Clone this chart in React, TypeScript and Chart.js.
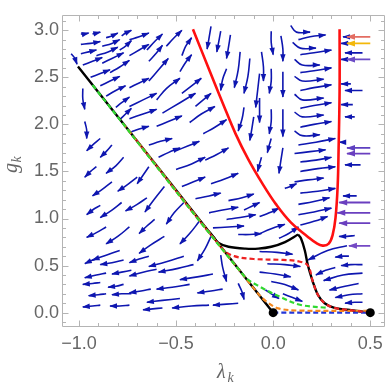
import React, { useEffect, useRef } from "react";
import { Chart, registerables } from "chart.js";

Chart.register(...registerables);

// ---------- axis ticks ----------
const X_TICKS = [-1.0, -0.5, 0.0, 0.5];
const Y_TICKS = [0.0, 0.5, 1.0, 1.5, 2.0, 2.5, 3.0];
const X_RANGE = [-1.082, 0.577];
const Y_RANGE = [-0.142, 3.164];

// ---------- stream segments: [λ1,g1, λm,gm, λ2,g2] (arrow at the end) ----------
const streamsUpperLeft: number[][] = [
  [-0.99, 2.96, -0.97, 2.96, -0.95, 2.97],
  [-0.93, 2.96, -0.91, 2.97, -0.89, 2.98],
  [-0.86, 2.92, -0.83, 2.94, -0.8, 2.97],
  [-0.78, 2.94, -0.76, 2.97, -0.73, 3.0],
  [-0.99, 2.85, -0.94, 2.86, -0.89, 2.88],
  [-0.88, 2.83, -0.83, 2.86, -0.79, 2.9],
  [-0.99, 2.75, -0.95, 2.77, -0.91, 2.79],
  [-0.91, 2.73, -0.85, 2.77, -0.8, 2.82],
  [-0.79, 2.79, -0.76, 2.83, -0.73, 2.89],
  [-0.98, 2.63, -0.93, 2.67, -0.88, 2.71],
  [-0.88, 2.65, -0.83, 2.7, -0.77, 2.76],
  [-0.94, 2.5, -0.89, 2.54, -0.84, 2.58],
  [-0.84, 2.55, -0.79, 2.61, -0.74, 2.68],
  [-0.89, 2.41, -0.84, 2.46, -0.79, 2.51],
  [-0.86, 2.3, -0.81, 2.36, -0.76, 2.41],
  [-0.81, 2.18, -0.78, 2.23, -0.74, 2.29],
  [-0.79, 2.05, -0.76, 2.11, -0.73, 2.17],
  [-0.74, 2.9, -0.69, 2.93, -0.64, 2.97],
  [-0.65, 2.79, -0.61, 2.88, -0.57, 2.96],
  [-0.55, 2.83, -0.51, 2.92, -0.47, 3.0],
  [-0.74, 2.73, -0.69, 2.79, -0.64, 2.85],
  [-0.64, 2.67, -0.6, 2.76, -0.57, 2.84],
  [-0.47, 2.73, -0.45, 2.83, -0.42, 2.92],
  [-0.74, 2.39, -0.69, 2.44, -0.64, 2.49],
  [-0.64, 2.46, -0.59, 2.58, -0.54, 2.7],
  [-0.48, 2.56, -0.45, 2.66, -0.42, 2.74],
  [-0.74, 2.19, -0.67, 2.26, -0.6, 2.33],
  [-0.6, 2.26, -0.55, 2.38, -0.48, 2.49],
  [-0.47, 2.33, -0.42, 2.41, -0.37, 2.49],
  [-0.74, 2.06, -0.67, 2.11, -0.6, 2.16],
  [-0.57, 2.12, -0.48, 2.23, -0.4, 2.33],
  [-0.4, 2.19, -0.36, 2.26, -0.32, 2.33],
  [-0.73, 1.92, -0.69, 1.95, -0.64, 1.98],
  [-0.6, 1.98, -0.54, 2.03, -0.47, 2.09],
  [-0.43, 2.02, -0.37, 2.11, -0.3, 2.19],
  [-0.36, 1.9, -0.3, 1.97, -0.24, 2.05],
];

const streamsMiddle: number[][] = [
  [-0.64, 1.78, -0.58, 1.82, -0.52, 1.85],
  [-0.59, 1.65, -0.54, 1.7, -0.48, 1.75],
  [-0.5, 1.72, -0.44, 1.77, -0.38, 1.82],
  [-0.5, 1.52, -0.42, 1.58, -0.35, 1.65],
  [-0.35, 1.62, -0.29, 1.68, -0.23, 1.75],
  [-0.47, 1.34, -0.41, 1.39, -0.35, 1.44],
  [-0.32, 1.37, -0.25, 1.42, -0.18, 1.48],
  [-0.4, 1.21, -0.33, 1.24, -0.27, 1.27],
  [-0.23, 1.19, -0.16, 1.22, -0.1, 1.26],
  [-0.33, 1.06, -0.26, 1.09, -0.18, 1.12],
  [-0.24, 0.99, -0.17, 1.01, -0.09, 1.04],
  [-0.31, 0.9, -0.23, 0.91, -0.15, 0.92],
  [-0.18, 0.83, -0.12, 0.83, -0.06, 0.84],
  [-0.07, 1.02, -0.02, 1.06, 0.03, 1.11],
  [-0.08, 0.83, -0.01, 0.89, 0.06, 0.94],
  [0.03, 0.79, 0.08, 0.84, 0.13, 0.91],
  [-0.15, 1.09, -0.11, 1.13, -0.07, 1.17],
];

const streamsFalling: number[][] = [
  [-0.32, 3.04, -0.33, 2.92, -0.34, 2.8],
  [-0.27, 2.99, -0.28, 2.88, -0.29, 2.77],
  [-0.22, 2.95, -0.23, 2.82, -0.24, 2.7],
  [-0.17, 2.77, -0.18, 2.58, -0.2, 2.39],
  [-0.24, 2.59, -0.26, 2.48, -0.27, 2.36],
  [-0.12, 2.7, -0.13, 2.51, -0.15, 2.33],
  [-0.07, 2.54, -0.08, 2.36, -0.09, 2.18],
  [-0.15, 2.18, -0.16, 2.06, -0.18, 1.93],
  [-0.1, 2.08, -0.11, 1.95, -0.12, 1.83],
  [-0.06, 2.77, -0.05, 2.61, -0.05, 2.46],
  [-0.01, 2.99, -0.01, 2.87, 0.0, 2.74],
  [-0.01, 2.59, -0.01, 2.46, -0.02, 2.33],
  [0.04, 2.94, 0.05, 2.8, 0.05, 2.67],
  [0.05, 2.56, 0.05, 2.43, 0.05, 2.29],
  [-0.07, 2.28, -0.07, 2.16, -0.07, 2.02],
  [-0.01, 2.16, -0.01, 2.03, -0.02, 1.9],
  [-0.01, 1.85, -0.02, 1.78, -0.03, 1.7],
  [0.05, 1.75, 0.04, 1.62, 0.03, 1.48],
  [-0.06, 1.65, -0.07, 1.58, -0.08, 1.5],
  [0.05, 2.16, 0.05, 2.0, 0.05, 1.87],
];

const streamsTurning: number[][] = [
  [0.09, 3.05, 0.12, 2.98, 0.19, 2.98],
  [0.13, 2.9, 0.19, 2.93, 0.27, 2.95],
  [0.1, 2.87, 0.14, 2.81, 0.22, 2.81],
  [0.14, 2.74, 0.21, 2.76, 0.3, 2.79],
  [0.11, 2.69, 0.15, 2.63, 0.24, 2.63],
  [0.14, 2.55, 0.21, 2.57, 0.3, 2.6],
  [0.11, 2.51, 0.15, 2.46, 0.26, 2.48],
  [0.14, 2.36, 0.21, 2.39, 0.3, 2.42],
  [0.11, 2.32, 0.15, 2.26, 0.26, 2.28],
  [0.14, 2.17, 0.21, 2.2, 0.3, 2.23],
  [0.11, 2.13, 0.15, 2.08, 0.26, 2.1],
  [0.14, 1.97, 0.21, 2.0, 0.3, 2.03],
  [0.11, 1.93, 0.15, 1.88, 0.24, 1.89],
  [0.13, 1.78, 0.22, 1.81, 0.32, 1.85],
  [0.11, 1.69, 0.19, 1.71, 0.27, 1.73],
  [0.14, 1.6, 0.22, 1.62, 0.3, 1.65],
  [0.14, 1.5, 0.23, 1.53, 0.32, 1.55],
  [0.11, 1.39, 0.18, 1.41, 0.26, 1.43],
  [0.14, 1.27, 0.23, 1.29, 0.32, 1.32],
  [0.13, 1.15, 0.21, 1.18, 0.29, 1.22],
  [0.13, 1.04, 0.21, 1.07, 0.3, 1.11],
  [0.14, 0.93, 0.21, 0.97, 0.28, 1.02],
  [0.06, 1.32, 0.09, 1.34, 0.12, 1.37],
];

const streamsRight: number[][] = [
  [0.4, 2.93, 0.38, 2.93, 0.36, 2.93],
  [0.39, 2.86, 0.37, 2.86, 0.35, 2.86],
  [0.46, 2.76, 0.41, 2.76, 0.37, 2.76],
  [0.38, 2.69, 0.36, 2.69, 0.35, 2.69],
  [0.4, 2.43, 0.37, 2.43, 0.35, 2.43],
  [0.46, 2.36, 0.41, 2.36, 0.37, 2.36],
  [0.41, 2.21, 0.38, 2.21, 0.35, 2.21],
  [0.42, 2.08, 0.39, 2.08, 0.37, 2.08],
  [0.37, 1.81, 0.36, 1.81, 0.34, 1.81],
  [0.45, 1.57, 0.41, 1.57, 0.37, 1.57],
  [0.43, 1.24, 0.39, 1.24, 0.36, 1.24],
  [0.42, 0.82, 0.38, 0.81, 0.34, 0.81],
  [0.39, 0.6, 0.36, 0.6, 0.32, 0.59],
  [0.46, 0.51, 0.4, 0.51, 0.35, 0.5],
  [0.38, 0.71, 0.28, 0.66, 0.18, 0.56],
  [0.46, 0.42, 0.36, 0.4, 0.26, 0.34],
  [0.44, 0.31, 0.37, 0.28, 0.29, 0.24],
  [0.46, 0.2, 0.39, 0.19, 0.32, 0.16],
  [0.46, 0.11, 0.42, 0.11, 0.37, 0.1],
  [0.32, 0.48, 0.27, 0.45, 0.22, 0.4],
  [-0.07, 0.65, 0.02, 0.64, 0.1, 0.62],
  [-0.03, 0.52, 0.06, 0.51, 0.14, 0.49],
  [-0.07, 0.43, 0.01, 0.41, 0.09, 0.38],
  [-0.01, 0.33, 0.06, 0.3, 0.13, 0.24],
  [-0.04, 0.24, -0.01, 0.2, 0.03, 0.15],
  [0.05, 0.2, 0.1, 0.16, 0.15, 0.12],
];

const streamsLower: number[][] = [
  [-1.04, 2.75, -1.02, 2.7, -1.01, 2.64],
  [-0.98, 2.38, -0.98, 2.27, -0.97, 2.16],
  [-0.97, 2.03, -0.96, 1.94, -0.96, 1.85],
  [-0.89, 1.85, -0.93, 1.78, -0.96, 1.72],
  [-0.83, 1.78, -0.86, 1.71, -0.89, 1.65],
  [-0.77, 1.65, -0.81, 1.56, -0.86, 1.48],
  [-0.91, 1.55, -0.94, 1.5, -0.97, 1.44],
  [-0.83, 1.39, -0.88, 1.31, -0.93, 1.24],
  [-0.7, 1.44, -0.75, 1.36, -0.8, 1.29],
  [-0.89, 1.14, -0.93, 1.09, -0.96, 1.04],
  [-0.78, 1.17, -0.83, 1.09, -0.89, 1.01],
  [-0.65, 1.22, -0.7, 1.15, -0.76, 1.08],
  [-0.86, 0.91, -0.91, 0.85, -0.96, 0.8],
  [-0.74, 0.91, -0.8, 0.81, -0.86, 0.73],
  [-0.79, 0.66, -0.86, 0.61, -0.93, 0.56],
  [-0.64, 1.55, -0.67, 1.46, -0.7, 1.37],
  [-0.56, 1.34, -0.61, 1.21, -0.66, 1.07],
  [-0.46, 1.17, -0.51, 1.06, -0.55, 0.94],
  [-0.61, 0.99, -0.65, 0.92, -0.69, 0.84],
  [-0.38, 0.97, -0.43, 0.84, -0.48, 0.73],
  [-0.56, 0.81, -0.63, 0.72, -0.69, 0.63],
  [-0.32, 0.81, -0.35, 0.68, -0.39, 0.55],
  [-0.64, 0.6, -0.69, 0.57, -0.74, 0.53],
  [-0.46, 0.6, -0.55, 0.54, -0.64, 0.49],
];

const streamsBottom: number[][] = [
  [-0.91, 0.57, -0.94, 0.55, -0.97, 0.52],
  [-0.77, 0.56, -0.83, 0.53, -0.89, 0.51],
  [-0.86, 0.42, -0.91, 0.4, -0.97, 0.37],
  [-0.73, 0.45, -0.78, 0.43, -0.83, 0.41],
  [-0.89, 0.32, -0.93, 0.31, -0.98, 0.3],
  [-0.77, 0.3, -0.81, 0.28, -0.85, 0.27],
  [-0.86, 0.2, -0.9, 0.19, -0.95, 0.18],
  [-0.73, 0.2, -0.78, 0.2, -0.83, 0.19],
  [-0.89, 0.08, -0.93, 0.07, -0.98, 0.06],
  [-0.74, 0.08, -0.79, 0.07, -0.84, 0.07],
  [-0.6, 0.46, -0.67, 0.43, -0.74, 0.39],
  [-0.41, 0.51, -0.49, 0.47, -0.59, 0.43],
  [-0.31, 0.41, -0.39, 0.38, -0.48, 0.35],
  [-0.63, 0.25, -0.68, 0.23, -0.74, 0.21],
  [-0.43, 0.3, -0.52, 0.27, -0.6, 0.25],
  [-0.26, 0.25, -0.32, 0.23, -0.39, 0.21],
  [-0.48, 0.15, -0.57, 0.13, -0.65, 0.11],
  [-0.33, 0.08, -0.42, 0.07, -0.52, 0.05],
  [-0.57, 0.05, -0.62, 0.04, -0.67, 0.03],
  [-0.18, 0.1, -0.24, 0.09, -0.31, 0.08],
  [-0.27, 0.61, -0.26, 0.48, -0.24, 0.33],
  [-0.18, 0.31, -0.16, 0.22, -0.15, 0.14],
];

// ---------- curves: [λ, g] ----------
const redCurve: number[][] = [
  [-0.413, 3.01], [-0.332, 2.594], [-0.26, 2.228], [-0.194, 1.902], [-0.128, 1.628],
  [-0.056, 1.373], [0.015, 1.15], [0.092, 0.956], [0.179, 0.804], [0.219, 0.743],
  [0.255, 0.712], [0.286, 0.732], [0.306, 0.824], [0.321, 1.007], [0.332, 1.343],
  [0.337, 1.75], [0.342, 2.36], [0.342, 3.01],
];
const blackSeparatrix: number[][] = [[-1.005, 2.614], [0, 0]];
const blackBranchA: number[][] = [
  [-0.332, 0.865], [-0.306, 0.8], [-0.281, 0.74], [-0.23, 0.7], [-0.143, 0.68],
  [-0.077, 0.68], [-0.01, 0.7], [0.061, 0.75], [0.128, 0.83],
];
const blackBranchB: number[][] = [
  [0.128, 0.83], [0.143, 0.79], [0.163, 0.66], [0.179, 0.5], [0.204, 0.33],
  [0.23, 0.19], [0.265, 0.1], [0.316, 0.05], [0.383, 0.03], [0.5, 0.0],
];
const greenDashed: number[][] = [
  [-0.93, 2.418], [-0.15, 0.39], [-0.077, 0.285], [0.051, 0.153], [0.143, 0.081], [0.281, 0.051],
];
const redDashed: number[][] = [
  [-0.72, 1.872], [-0.26, 0.676], [-0.2, 0.6], [-0.1, 0.57], [0.05, 0.56], [0.13, 0.545],
  [0.179, 0.5], [0.204, 0.33], [0.23, 0.19], [0.265, 0.1], [0.316, 0.05], [0.383, 0.03], [0.5, 0.0],
];
const orangeDashed: number[][] = [
  [-0.78, 2.028], [-0.082, 0.213], [-0.03, 0.11], [0.026, 0.045], [0.128, 0.022], [0.5, 0.02],
];
const blueDashed: number[][] = [[0, 0], [0.5, 0]];
const fixedPoints: number[][] = [[0, 0], [0.5, 0]];

// coloured inflow arrows on the right
const inflowLevels = [2.93, 2.86, 2.69, 1.75, 1.69, 1.17, 1.06, 0.95, 0.71];
const inflowStart = [0.5, 0.5, 0.5, 0.5, 0.5, 0.5, 0.5, 0.5, 0.5];
const inflowEnd = [0.38, 0.38, 0.38, 0.38, 0.38, 0.34, 0.33, 0.34, 0.39];
const inflowColors = [
  "#e36d62", "#f3b80a", "#6c4cc6", "#5e40c0", "#6a3fbf",
  "#6a3fbf", "#6a3fbf", "#6a3fbf", "#7449c4",
];

// ---------- styles ----------
const BLUE = "rgb(14,22,176)";
const AXIS_GRAY = "#b4b4b4";
const LABEL_GRAY = "#666666";

function segPts(s: number[]) {
  const out: { x: number; y: number }[] = [];
  for (let i = 0; i < s.length; i += 2) out.push({ x: s[i], y: s[i + 1] });
  return out;
}
function curvePts(c: number[][]) {
  return c.map(([x, y]) => ({ x, y }));
}
function fmt(v: number) {
  const s = Math.abs(v).toFixed(1);
  return v < -1e-9 ? "\u2212" + s : s;
}

const arrowPlugin = {
  id: "arrowHeads",
  afterDatasetDraw(chart: any, args: any) {
    const ds = chart.data.datasets[args.index];
    if (!ds || !ds.arrowHead) return;
    const pts = args.meta.data;
    if (!pts || pts.length < 2) return;
    const last = pts[pts.length - 1];
    const prev = pts[pts.length - 2];
    let fx = last.cp1x, fy = last.cp1y;
    if (fx == null || fy == null || Math.hypot(last.x - fx, last.y - fy) < 0.8) {
      fx = prev.x; fy = prev.y;
    }
    const ang = Math.atan2(last.y - fy, last.x - fx);
    const c = Math.cos(ang), s = Math.sin(ang);
    const L = ds.arrowHead.len, W = ds.arrowHead.w;
    const bx = last.x - L * c, by = last.y - L * s;
    const ctx = chart.ctx;
    ctx.save();
    ctx.fillStyle = ds.borderColor;
    ctx.beginPath();
    ctx.moveTo(last.x + 0.8 * c, last.y + 0.8 * s);
    ctx.lineTo(bx - (s * W) / 2, by + (c * W) / 2);
    ctx.lineTo(bx + (s * W) / 2, by - (c * W) / 2);
    ctx.closePath();
    ctx.fill();
    ctx.restore();
  },
};

const framePlugin = {
  id: "frameTicks",
  afterDraw(chart: any) {
    const { ctx, chartArea: a, scales } = chart;
    const xs = scales.x, ys = scales.y;
    ctx.save();
    ctx.strokeStyle = AXIS_GRAY;
    ctx.lineWidth = 1;
    const L = Math.round(a.left) - 0.5, R = Math.round(a.right) - 0.5;
    const T = Math.round(a.top) + 0.5, B = Math.round(a.bottom) + 0.5;
    ctx.beginPath();
    ctx.rect(L, T, R - L, B - T);
    ctx.stroke();
    ctx.beginPath();
    for (let i = -12; i <= 7; i++) {
      const v = i / 10;
      if (v < xs.min || v > xs.max) continue;
      const px = Math.round(xs.getPixelForValue(v)) + 0.5;
      const len = i % 5 === 0 ? 6 : 3.5;
      ctx.moveTo(px, B); ctx.lineTo(px, B - len);
      ctx.moveTo(px, T); ctx.lineTo(px, T + len);
    }
    for (let i = -2; i <= 32; i++) {
      const v = i / 10;
      if (v < ys.min || v > ys.max) continue;
      const py = Math.round(ys.getPixelForValue(v)) + 0.5;
      const len = i % 5 === 0 ? 6 : 3.5;
      ctx.moveTo(L, py); ctx.lineTo(L + len, py);
      ctx.moveTo(R, py); ctx.lineTo(R - len, py);
    }
    ctx.stroke();

    // axis titles
    ctx.fillStyle = LABEL_GRAY;
    ctx.textBaseline = "alphabetic";
    ctx.textAlign = "left";
    ctx.font = 'italic 20px "Liberation Serif"';
    ctx.fillText("\u03bb", 217, 378);
    ctx.font = 'italic 14px "Liberation Serif"';
    ctx.fillText("k", 227.5, 382);

    ctx.translate(17, 0);
    ctx.rotate(-Math.PI / 2);
    ctx.font = 'italic 20px "Liberation Serif"';
    ctx.fillText("g", -173, 0);
    const gw = ctx.measureText("g").width;
    ctx.font = 'italic 14px "Liberation Serif"';
    ctx.fillText("k", -173 + gw + 0.5, 4);
    ctx.restore();
  },
};

function buildConfig(): any {
  const datasets: any[] = [];
  const streamGroups = [
    streamsUpperLeft, streamsMiddle, streamsFalling, streamsTurning,
    streamsRight, streamsLower, streamsBottom,
  ];
  // top layers first (lower "order" draws on top)
  inflowLevels.forEach((g, i) => {
    datasets.push({
      data: [{ x: inflowStart[i], y: g }, { x: inflowEnd[i], y: g }],
      showLine: true, borderColor: inflowColors[i], borderWidth: 1.8,
      pointRadius: 0, tension: 0, order: 0,
      arrowHead: { len: 8, w: 6 },
    });
  });
  datasets.push({
    data: curvePts(fixedPoints), showLine: false, pointRadius: 4.5,
    pointBackgroundColor: "#000", pointBorderColor: "#000", pointBorderWidth: 0,
    order: 1,
  });
  const dashed = [
    { c: greenDashed, col: "#2fd82f", off: 0 },
    { c: redDashed, col: "#ee2222", off: 3 },
    { c: orangeDashed, col: "#f5891f", off: 6 },
    { c: blueDashed, col: "#2436d8", off: 0 },
  ];
  dashed.forEach((d, i) => {
    datasets.push({
      data: curvePts(d.c), showLine: true, borderColor: d.col, borderWidth: 2.2,
      borderDash: [5, 3], borderDashOffset: d.off, pointRadius: 0,
      tension: 0.35, order: 2 + i * 0.1,
    });
  });
  [blackSeparatrix, blackBranchA, blackBranchB].forEach((c) => {
    datasets.push({
      data: curvePts(c), showLine: true, borderColor: "#000", borderWidth: 2.4,
      pointRadius: 0, tension: 0.35, order: 3,
    });
  });
  datasets.push({
    data: curvePts(redCurve), showLine: true, borderColor: "#ff1010", borderWidth: 2.6,
    pointRadius: 0, tension: 0.4, order: 4,
  });
  streamGroups.forEach((grp) =>
    grp.forEach((s) => {
      datasets.push({
        data: segPts(s), showLine: true, borderColor: BLUE, borderWidth: 1.6,
        pointRadius: 0, tension: 0.4, order: 6,
        arrowHead: { len: 7, w: 5.4 },
      });
    })
  );

  const tickFont = { family: '"Liberation Sans", Arial, sans-serif', size: 18 };
  return {
    type: "scatter",
    data: { datasets },
    plugins: [arrowPlugin, framePlugin],
    options: {
      animation: false,
      responsive: true,
      maintainAspectRatio: false,
      events: [],
      layout: { padding: { top: 1, right: 2, left: 0, bottom: 0 } },
      plugins: { legend: { display: false }, tooltip: { enabled: false } },
      scales: {
        x: {
          type: "linear",
          min: X_RANGE[0],
          max: X_RANGE[1],
          grid: { display: false, drawTicks: false },
          border: { display: false },
          afterBuildTicks: (sc: any) => {
            sc.ticks = X_TICKS.map((v) => ({ value: v }));
          },
          afterFit: (sc: any) => {
            sc.height = 58;
          },
          ticks: {
            autoSkip: false,
            maxRotation: 0,
            padding: 7,
            color: LABEL_GRAY,
            font: tickFont,
            callback: (v: any) => fmt(Number(v)),
          },
        },
        y: {
          type: "linear",
          min: Y_RANGE[0],
          max: Y_RANGE[1],
          grid: { display: false, drawTicks: false },
          border: { display: false },
          afterBuildTicks: (sc: any) => {
            sc.ticks = Y_TICKS.map((v) => ({ value: v }));
          },
          afterFit: (sc: any) => {
            sc.width = 63;
          },
          ticks: {
            autoSkip: false,
            padding: 4,
            color: LABEL_GRAY,
            font: tickFont,
            callback: (v: any) => fmt(Number(v)),
          },
        },
      },
    },
  };
}

export default function App() {
  const ref = useRef<HTMLCanvasElement>(null);
  useEffect(() => {
    if (!ref.current) return;
    const chart = new Chart(ref.current, buildConfig());
    return () => chart.destroy();
  }, []);
  return (
    <div
      style={{
        position: "absolute",
        left: 0,
        top: 0,
        width: 390,
        height: 384,
        background: "#ffffff",
      }}
    >
      <canvas ref={ref} />
    </div>
  );
}
